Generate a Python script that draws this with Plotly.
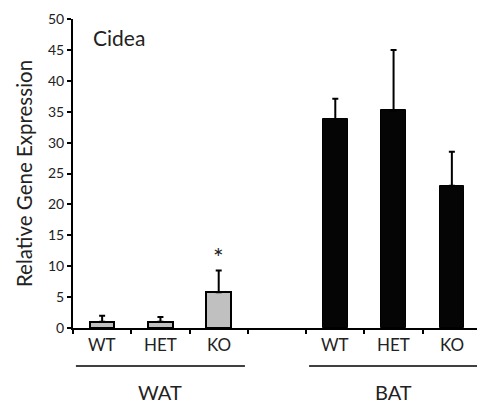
import plotly.graph_objects as go

genotypes = ["WT", "HET", "KO"]
tissues = ["WAT", "BAT"]
wat_means = [1.0, 1.0, 5.8]
wat_err = [1.0, 0.8, 3.5]
bat_means = [33.8, 35.2, 23.0]
bat_err = [3.3, 9.8, 5.5]
y_ticks = [0, 5, 10, 15, 20, 25, 30, 35, 40, 45, 50]

wat_x = [0, 1, 2]
bat_x = [4, 5, 6]
FONT = "Lato"
TXT = "#222"

fig = go.Figure()
fig.add_trace(go.Bar(
    x=wat_x, y=wat_means, width=0.42,
    marker=dict(color="#c0c0c0", line=dict(color="black", width=2)),
    error_y=dict(type="data", symmetric=False, array=wat_err, arrayminus=[0, 0, 0],
                 color="black", thickness=2, width=3),
    showlegend=False,
))
fig.add_trace(go.Bar(
    x=bat_x, y=bat_means, width=0.42,
    marker=dict(color="#050505", line=dict(color="black", width=1)),
    error_y=dict(type="data", symmetric=False, array=bat_err, arrayminus=[0, 0, 0],
                 color="black", thickness=2, width=3),
    showlegend=False,
))

# significance marker
fig.add_annotation(x=wat_x[2], y=wat_means[2] + wat_err[2] - 0.5, text="*",
                   showarrow=False, yanchor="bottom", font=dict(size=25, color=TXT, family=FONT))

# genotype labels
for xs in (wat_x, bat_x):
    for xi, g in zip(xs, genotypes):
        fig.add_annotation(x=xi, y=-0.055, yref="paper", text=g, showarrow=False,
                           yanchor="middle", font=dict(size=17, color=TXT, family=FONT))

# group lines and labels
for xs, t in zip((wat_x, bat_x), tissues):
    fig.add_shape(type="line", xref="x", yref="paper", x0=xs[0] - 0.45, x1=xs[-1] + 0.45,
                  y0=-0.123, y1=-0.123, line=dict(color="black", width=1.5))
    fig.add_annotation(x=xs[1], y=-0.207, yref="paper", text=t, showarrow=False,
                       yanchor="middle", font=dict(size=20, color=TXT, family=FONT))

fig.add_annotation(x=0.045, y=0.94, xref="paper", yref="paper", text="Cidea", showarrow=False,
                   xanchor="left", yanchor="middle", font=dict(size=21, color=TXT, family=FONT))

fig.update_layout(
    width=477, height=399,
    margin=dict(l=65, r=4, t=11, b=79),
    plot_bgcolor="white", paper_bgcolor="white",
    font=dict(family=FONT, color=TXT),
    bargap=0,
    xaxis=dict(range=[-0.5, 6.5], showgrid=False, zeroline=False,
               showline=True, linecolor="black", linewidth=2,
               tickvals=[], showticklabels=False,
               minor=dict(tickvals=[-0.5, 0.5, 1.5, 2.5, 3.5, 4.5, 5.5, 6.5],
                          ticks="outside", ticklen=4, tickwidth=1.5, tickcolor="black")),
    yaxis=dict(range=[0, 50], tickvals=y_ticks, showgrid=False, zeroline=False,
               showline=True, linecolor="black", linewidth=2,
               ticks="outside", ticklen=4, tickwidth=1.5, tickcolor="black",
               tickfont=dict(size=14, family=FONT, color=TXT),
               automargin=False,
               title=dict(text="Relative Gene Expression", font=dict(size=20.5, family=FONT, color=TXT),
                          standoff=10)),
)

fig.write_html("out.html")
